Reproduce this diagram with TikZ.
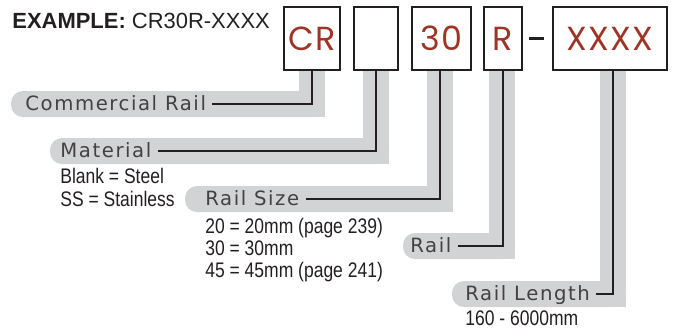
\documentclass[tikz,border=0pt]{standalone}
\usepackage{fontspec}
\setmainfont{Liberation Sans}
\newfontfamily\condfont[FakeStretch=0.83]{Liberation Sans}
\newfontfamily\spacedfont[LetterSpace=8]{DejaVu Sans}
\newfontfamily\codefont[LetterSpace=4]{Poppins}

\definecolor{bandgray}{RGB}{209,211,212}
\definecolor{codered}{RGB}{158,52,38}
\definecolor{inkblack}{RGB}{35,31,32}

\begin{document}
\begin{tikzpicture}[
        x=0.02cm, y=-0.02cm,
        codebox/.style={draw=inkblack, line width=1.15pt, inner sep=0pt,
            minimum height=1.26cm, text=codered,
            font=\codefont\fontsize{19}{19}\selectfont},
        fieldlabel/.style={anchor=west, inner sep=0pt, text height=0.73em,
            text depth=0pt, text=inkblack!85,
            font=\spacedfont\fontsize{11.2}{13}\selectfont},
        note/.style={anchor=base west, inner sep=0pt, text=inkblack,
            font=\condfont\fontsize{12}{13}\selectfont},
        lead/.style={draw=inkblack, line width=1.15pt, shorten <=0.12cm},
        band/.style={fill=bandgray}
    ]

    \useasboundingbox (0,0) rectangle (673,329);

    % =====================================================
    % Heading
    % =====================================================
    \node[anchor=base west, inner sep=0pt, text=inkblack,
        font=\fontsize{12.5}{14}\selectfont] (title) at (12,28)
    {\textbf{EXAMPLE:} CR30R-XXXX};

    % =====================================================
    % Grey bands behind the leads
    % =====================================================
    \fill[band, rounded corners=0.24cm] (11,91) rectangle (325,117);
    \fill[band] (299,70) rectangle (325,117);

    \fill[band, rounded corners=0.24cm] (50,138) rectangle (389,164);
    \fill[band] (363,70) rectangle (389,164);

    \fill[band, rounded corners=0.24cm] (185,186) rectangle (453,212);
    \fill[band] (427,70) rectangle (453,212);

    \fill[band, rounded corners=0.24cm] (403,233) rectangle (515,259);
    \fill[band] (489,70) rectangle (515,259);

    \fill[band, rounded corners=0.24cm] (452,281) rectangle (626,307);
    \fill[band] (600,70) rectangle (626,307);

    % =====================================================
    % Code boxes
    % =====================================================
    \node[codebox, minimum width=1.12cm] (cr) at (312,38.5) {CR};
    \node[codebox, minimum width=0.88cm] (mat) at (376,38.5) {};
    \node[codebox, minimum width=1.18cm] (size) at (441.5,38.5) {30};
    \node[codebox, minimum width=0.76cm] (rail) at (503,38.5) {R};
    \node[codebox, minimum width=2.28cm] (len) at (610,38.5) {XXXX};

    \draw[inkblack, line width=1.6pt, shorten <=0.12cm, shorten >=0.16cm]
        (rail.east) -- (len.west);

    % =====================================================
    % Field labels and leads
    % =====================================================
    \node[fieldlabel] (lcr) at (25,104) {Commercial Rail};
    \node[fieldlabel] (lmat) at (60,151) {Material};
    \node[fieldlabel] (lsize) at (205,199) {Rail Size};
    \node[fieldlabel] (lrail) at (410,246) {Rail};
    \node[fieldlabel] (llen) at (465,294) {Rail Length};

    \draw[lead] (lcr.east) -| (cr.south);
    \draw[lead] (lmat.east) -| (mat.south);
    \draw[lead] (lsize.east) -| ([xshift=-0.03cm]size.south);
    \draw[lead] (lrail.east) -| (rail.south);
    \draw[lead] (llen.east) -| ([xshift=0.06cm]len.south);

    % Options under each label
    \node[note] (steel) at (60,183) {Blank = Steel};
    \node[note] (stainless) at (60,206) {SS = Stainless};

    \node[note] (s20) at (205,233) {20 = 20mm (page 239)};
    \node[note] (s30) at (205,255) {30 = 30mm};
    \node[note] (s45) at (205,277) {45 = 45mm (page 241)};

    \node[note] (range) at (465,325) {160 - 6000mm};

\end{tikzpicture}
\end{document}
